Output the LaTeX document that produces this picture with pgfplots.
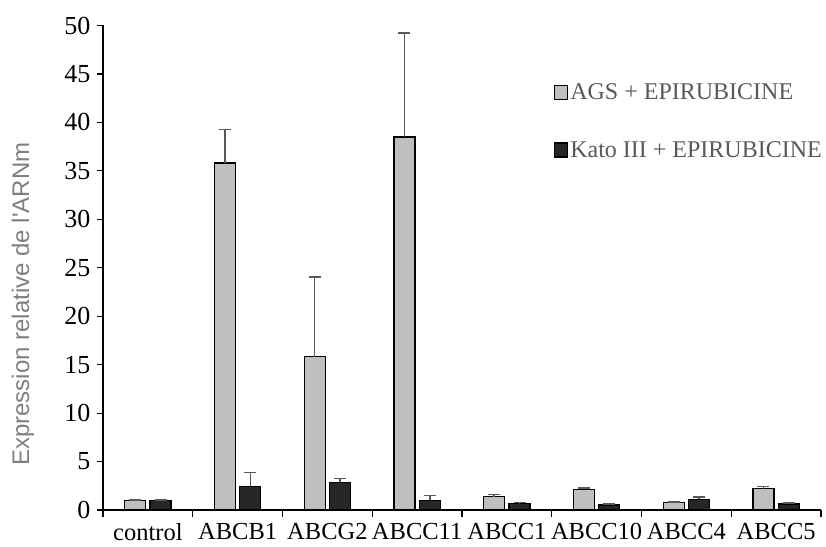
\documentclass[border=0pt]{standalone}
\usepackage{pgfplots}
\usepackage{pgfplotstable}
\pgfplotsset{compat=1.18}
\usepackage{fontspec}
\setmainfont{Liberation Serif}
\newfontfamily\arialfont{Liberation Sans}
\definecolor{agsfill}{HTML}{BFBFBF}
\definecolor{katofill}{HTML}{262626}
\definecolor{errgray}{HTML}{595959}
\definecolor{labgray}{HTML}{7F7F7F}

\pgfplotstableread{
x ags agserr kato katoerr
0 1.00 0.05 1.00 0.05
1 35.8 3.45 2.45 1.40
2 15.8 8.25 2.85 0.38
3 38.5 10.7 1.00 0.48
4 1.36 0.26 0.63 0.12
5 2.12 0.13 0.52 0.12
6 0.76 0.08 1.12 0.22
7 2.20 0.22 0.62 0.12
}\datatable

\begin{document}
\begin{tikzpicture}
\path (-103pt,-36pt) rectangle (723pt,510pt);
\begin{axis}[
  x=89.75pt, y=9.69pt,
  xmin=-0.5, xmax=7.5, ymin=0, ymax=50,
  ybar=4.4pt, bar width=21pt,
  axis x line*=bottom, axis y line*=left,
  axis line style={line width=1.2pt, -, black},
  ytick={0,5,...,50},
  xtick={0,...,7},
  xticklabels={control,ABCB1,ABCG2,ABCC11,ABCC1,ABCC10,ABCC4,ABCC5},
  minor xtick={-0.5,0.5,...,7.5},
  tick align=outside,
  major tick length=6pt, minor tick length=7pt,
  major x tick style={draw=none},
  minor x tick style={draw=black, line width=1.2pt},
  ytick style={draw=black, line width=1.2pt},
  /pgf/number format/assume math mode=true,
  yticklabel style={font=\fontsize{26}{30}\selectfont, xshift=-3pt},
  xticklabel style={font=\fontsize{24.5}{28}\selectfont, yshift=-4pt},
  ylabel={\arialfont Expression relative de l'ARNm},
  ylabel style={at={(axis description cs:-0.1114,0.425)}, anchor=center,
    font=\fontsize{24}{28}\selectfont, text=labgray},
  legend style={at={(axis description cs:0.628,0.884)}, anchor=north west,
    draw=none, fill=none, font=\fontsize{24}{28}\selectfont, text=errgray,
    row sep=36pt, inner sep=0pt},
  legend cell align=left,
  legend image code/.code={\draw[#1] (0pt,-7pt) rectangle (13pt,7pt);},
]
\addplot[fill=agsfill, draw=black, line width=1.2pt,
  error bars/.cd, y dir=plus, y explicit,
  error bar style={draw=errgray, line width=1.5pt},
  error mark options={draw=errgray, line width=1.5pt, mark size=6pt, rotate=90}]
  table[x=x, y=ags, y error=agserr]{\datatable};
\addlegendentry{AGS + EPIRUBICINE}
\addplot[fill=katofill, draw=black, line width=1.2pt,
  error bars/.cd, y dir=plus, y explicit,
  error bar style={draw=errgray, line width=1.5pt},
  error mark options={draw=errgray, line width=1.5pt, mark size=6pt, rotate=90}]
  table[x=x, y=kato, y error=katoerr]{\datatable};
\addlegendentry{Kato III + EPIRUBICINE}
\end{axis}
\end{tikzpicture}
\end{document}
